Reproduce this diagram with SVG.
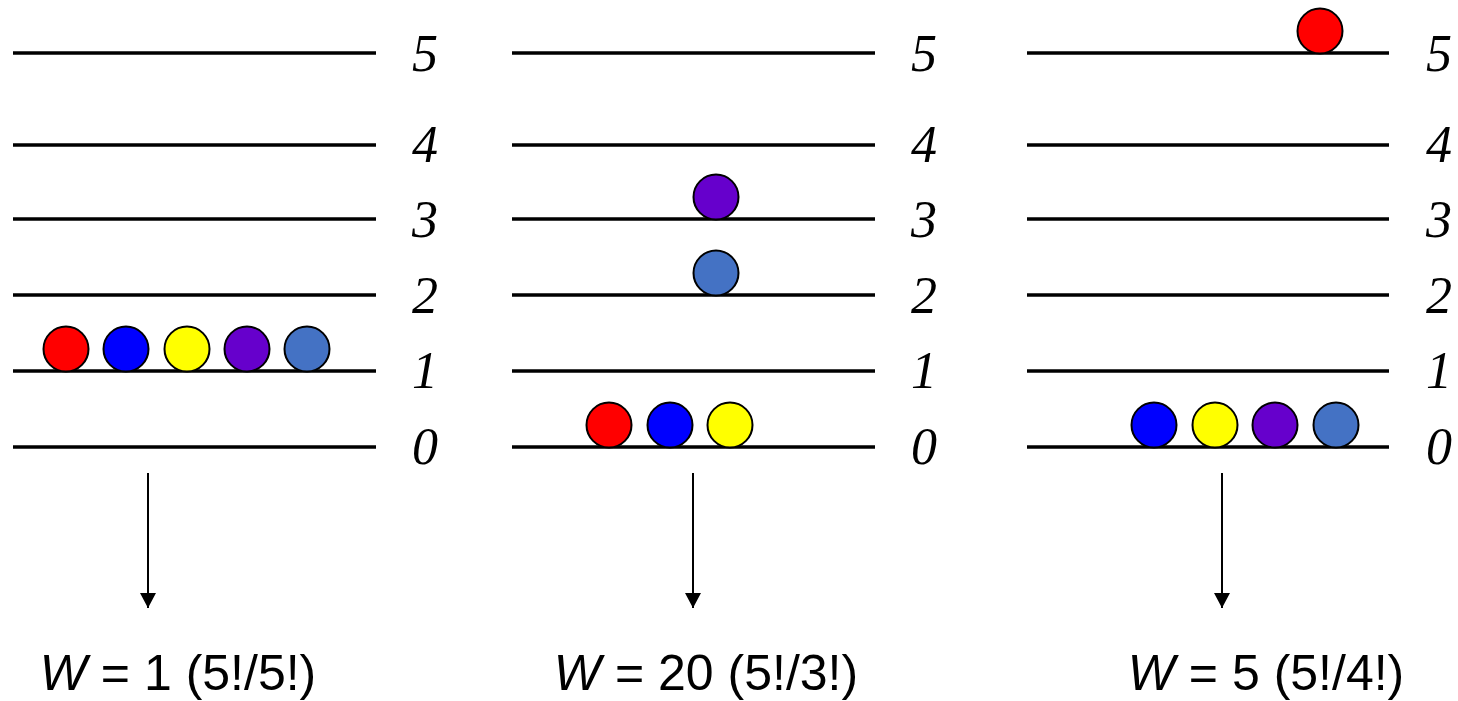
<svg xmlns="http://www.w3.org/2000/svg" width="1458" height="701" viewBox="0 0 1458 701">
<style>
.lv{stroke:#000;stroke-width:3.5;fill:none}
.lab{font-family:"Liberation Serif",serif;font-style:italic;font-size:52px;fill:#000}
.ball{stroke:#000;stroke-width:2}
.w{font-family:"Liberation Sans",sans-serif;font-size:50px;fill:#000;text-anchor:middle}
.conn{stroke:#000;stroke-width:2;fill:none}
</style>
<defs>
<marker id="ah" viewBox="0 0 10 10" refX="10" refY="5" markerWidth="15" markerHeight="16" markerUnits="userSpaceOnUse" orient="auto" preserveAspectRatio="none">
<path d="M0,0 L10,5 L0,10 z" fill="#000"/>
</marker>
</defs>
<g id="panel1">
<line class="lv" x1="13" y1="53" x2="376" y2="53"/>
<line class="lv" x1="13" y1="145" x2="376" y2="145"/>
<line class="lv" x1="13" y1="219" x2="376" y2="219"/>
<line class="lv" x1="13" y1="295" x2="376" y2="295"/>
<line class="lv" x1="13" y1="371" x2="376" y2="371"/>
<line class="lv" x1="13" y1="447" x2="376" y2="447"/>
<text class="lab" x="412" y="71">5</text>
<text class="lab" x="412" y="162">4</text>
<text class="lab" x="412" y="237">3</text>
<text class="lab" x="412" y="313">2</text>
<text class="lab" x="412" y="388">1</text>
<text class="lab" x="412" y="464">0</text>
<circle class="ball" cx="66" cy="349" r="22.5" fill="#ff0000"/>
<circle class="ball" cx="126" cy="349" r="22.5" fill="#0000ff"/>
<circle class="ball" cx="187" cy="349" r="22.5" fill="#ffff00"/>
<circle class="ball" cx="247" cy="349" r="22.5" fill="#6600cc"/>
<circle class="ball" cx="307" cy="349" r="22.5" fill="#4472c4"/>
</g>
<g id="panel2">
<line class="lv" x1="512" y1="53" x2="875" y2="53"/>
<line class="lv" x1="512" y1="145" x2="875" y2="145"/>
<line class="lv" x1="512" y1="219" x2="875" y2="219"/>
<line class="lv" x1="512" y1="295" x2="875" y2="295"/>
<line class="lv" x1="512" y1="371" x2="875" y2="371"/>
<line class="lv" x1="512" y1="447" x2="875" y2="447"/>
<text class="lab" x="911" y="71">5</text>
<text class="lab" x="911" y="162">4</text>
<text class="lab" x="911" y="237">3</text>
<text class="lab" x="911" y="313">2</text>
<text class="lab" x="911" y="388">1</text>
<text class="lab" x="911" y="464">0</text>
<circle class="ball" cx="716" cy="197" r="22.5" fill="#6600cc"/>
<circle class="ball" cx="716" cy="273" r="22.5" fill="#4472c4"/>
<circle class="ball" cx="609" cy="425" r="22.5" fill="#ff0000"/>
<circle class="ball" cx="670" cy="425" r="22.5" fill="#0000ff"/>
<circle class="ball" cx="730" cy="425" r="22.5" fill="#ffff00"/>
</g>
<g id="panel3">
<line class="lv" x1="1027" y1="53" x2="1389" y2="53"/>
<line class="lv" x1="1027" y1="145" x2="1389" y2="145"/>
<line class="lv" x1="1027" y1="219" x2="1389" y2="219"/>
<line class="lv" x1="1027" y1="295" x2="1389" y2="295"/>
<line class="lv" x1="1027" y1="371" x2="1389" y2="371"/>
<line class="lv" x1="1027" y1="447" x2="1389" y2="447"/>
<text class="lab" x="1426" y="71">5</text>
<text class="lab" x="1426" y="162">4</text>
<text class="lab" x="1426" y="237">3</text>
<text class="lab" x="1426" y="313">2</text>
<text class="lab" x="1426" y="388">1</text>
<text class="lab" x="1426" y="464">0</text>
<circle class="ball" cx="1320" cy="31" r="22.5" fill="#ff0000"/>
<circle class="ball" cx="1154" cy="425" r="22.5" fill="#0000ff"/>
<circle class="ball" cx="1215" cy="425" r="22.5" fill="#ffff00"/>
<circle class="ball" cx="1275" cy="425" r="22.5" fill="#6600cc"/>
<circle class="ball" cx="1336" cy="425" r="22.5" fill="#4472c4"/>
</g>
<g id="connectors">
<line class="conn" x1="148" y1="473" x2="148" y2="608" marker-end="url(#ah)"/>
<line class="conn" x1="693" y1="473" x2="693" y2="608" marker-end="url(#ah)"/>
<line class="conn" x1="1222" y1="473" x2="1222" y2="608" marker-end="url(#ah)"/>
</g>
<g id="result1"><text class="w" x="178" y="690"><tspan font-style="italic">W</tspan> = 1 (5!/5!)</text></g>
<g id="result2"><text class="w" x="706" y="690"><tspan font-style="italic">W</tspan> = 20 (5!/3!)</text></g>
<g id="result3"><text class="w" x="1266" y="690"><tspan font-style="italic">W</tspan> = 5 (5!/4!)</text></g>
</svg>
